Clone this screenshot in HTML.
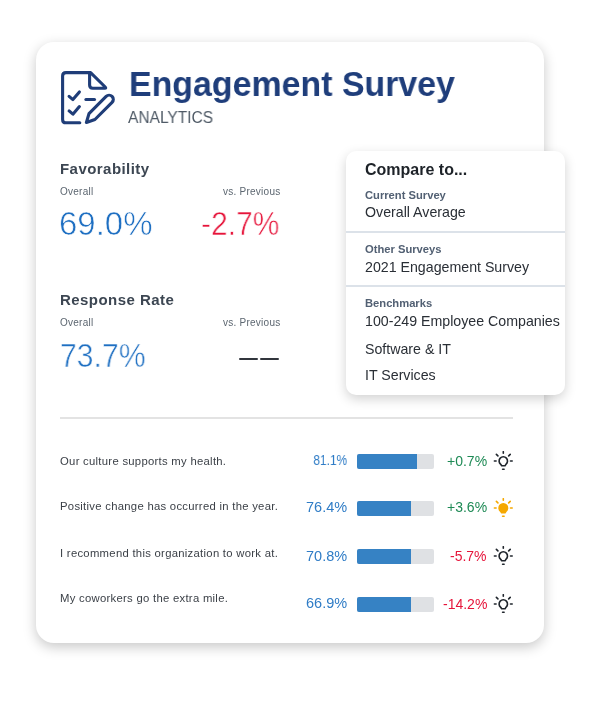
<!DOCTYPE html>
<html>
<head>
<meta charset="utf-8">
<style>
html,body{margin:0;padding:0;background:#fff;}
body{width:600px;height:720px;position:relative;overflow:hidden;font-family:"Liberation Sans",sans-serif;}
.a{position:absolute;white-space:nowrap;line-height:1;will-change:transform;}
.card{position:absolute;left:36px;top:42px;width:508px;height:601px;background:#fff;border-radius:18px;
  box-shadow:0 4px 13px rgba(0,0,0,0.22);}
.pop{position:absolute;left:346px;top:151px;width:219px;height:244px;background:#fff;border-radius:10px;
  box-shadow:0 4px 12px rgba(0,0,0,0.18);}
.title{font-weight:700;font-size:35.5px;color:#1f3e7b;transform:scaleX(0.955);transform-origin:0 0;}
.sub{font-size:16px;color:#4f5a66;transform:scaleX(0.97);transform-origin:0 0;}
.h2{font-weight:700;font-size:15px;letter-spacing:0.45px;color:#3c4652;}
.small{font-size:10px;letter-spacing:0.25px;color:#5c6670;}
.big{font-size:33px;color:#1e6fc2;-webkit-text-stroke:0.6px #fff;}
.red{color:#e6143a;}
.ptitle{font-weight:700;font-size:16px;color:#1d2228;}
.plabel{font-weight:700;font-size:11.2px;color:#526073;}
.pitem{font-size:14.2px;color:#2a2f36;}
.sep{position:absolute;left:0;width:219px;height:2px;background:#dce2e9;}
.row{font-size:11.3px;letter-spacing:0.28px;color:#3a3f46;}
.pct{font-size:14.5px;color:#2f7cc6;}
.bar{position:absolute;left:357px;width:77px;height:15.5px;background:#dfe1e4;border-radius:2px;overflow:hidden;}
.bar i{position:absolute;left:0;top:0;bottom:0;background:#3682c4;}
.chg{font-size:14px;}
.green{color:#1e8a55;}
.bulb{position:absolute;width:20px;height:20px;}
</style>
</head>
<body>
<div class="card"></div>

<!-- icon -->
<svg class="a" style="left:55px;top:65px" width="65" height="65" viewBox="55 65 65 65" fill="none" stroke="#1f3d78" stroke-width="3.1" stroke-linecap="round" stroke-linejoin="round">
  <path d="M79.8 122.8 L66 122.8 Q62.6 122.8 62.6 119.4 L62.6 76 Q62.6 72.6 66 72.6 L89.6 72.6"/>
  <path d="M89.6 72.6 L89.6 85 Q89.6 88.2 92.8 88.2 L104.8 88.2 Q106.4 88.2 105.2 87 L90.6 72.6 Z"/>
  <path d="M69.1 96.3 L72.9 99.6 L79.4 91.9"/>
  <path d="M69.1 110.9 L72.9 114.2 L79.4 106.6"/>
  <path d="M85.9 99.5 L94.5 99.5"/>
  <path d="M88.99 113.57 L106.13 96.43 A4.2 4.2 0 0 1 112.07 102.37 L94.93 119.51 L86.4 122.5 Z"/>
</svg>

<div class="a title" id="t1" style="left:129px;top:67px">Engagement Survey</div>
<div class="a sub" id="t2" style="left:128px;top:110px">ANALYTICS</div>

<div class="a h2" id="fav" style="left:60px;top:160.5px">Favorability</div>
<div class="a small" style="left:60px;top:187px">Overall</div>
<div class="a small" style="left:223px;top:187px">vs. Previous</div>
<div class="a big" style="left:59px;top:207px">69.0%</div>
<div class="a big red" style="left:201px;top:207px;transform:scaleX(0.91);transform-origin:0 0">-2.7%</div>

<div class="a h2" style="left:60px;top:292px">Response Rate</div>
<div class="a small" style="left:60px;top:318px">Overall</div>
<div class="a small" style="left:223px;top:318px">vs. Previous</div>
<div class="a big" style="left:59.5px;top:339px;transform:scaleX(0.915);transform-origin:0 0">73.7%</div>
<div class="a" style="left:239px;top:357.9px;width:19px;height:1.7px;background:#31353c;border-radius:1px"></div>
<div class="a" style="left:260px;top:357.9px;width:19px;height:1.7px;background:#31353c;border-radius:1px"></div>

<div class="a" style="left:60px;top:417.2px;width:453px;height:1.5px;background:#e3e3e3"></div>

<!-- rows -->
<div class="a row" style="left:60px;top:456px">Our culture supports my health.</div>
<div class="a row" style="left:60px;top:501px">Positive change has occurred in the year.</div>
<div class="a row" style="left:60px;top:547.5px">I recommend this organization to work at.</div>
<div class="a row" style="left:60px;top:593px">My coworkers go the extra mile.</div>

<div class="a pct" style="right:253px;top:453px;transform:scaleX(0.82);transform-origin:100% 0">81.1%</div>
<div class="a pct" style="right:253px;top:500px">76.4%</div>
<div class="a pct" style="right:253px;top:549px">70.8%</div>
<div class="a pct" style="right:253px;top:596px">66.9%</div>

<div class="bar" style="top:453.5px"><i style="width:60px"></i></div>
<div class="bar" style="top:500.5px"><i style="width:54px"></i></div>
<div class="bar" style="top:548.5px"><i style="width:54px"></i></div>
<div class="bar" style="top:596.5px"><i style="width:54px"></i></div>

<div class="a chg green" style="right:113px;top:454px">+0.7%</div>
<div class="a chg green" style="right:113px;top:500px">+3.6%</div>
<div class="a chg red" style="right:113px;top:549px">-5.7%</div>
<div class="a chg red" style="right:113px;top:597px">-14.2%</div>

<svg class="bulb" style="left:493px;top:451.1px" viewBox="-0.3 0 20 20" fill="none" stroke="#1f252c" stroke-width="1.6" stroke-linecap="round" stroke-linejoin="round">
  <path d="M10 0.7V2.3M3.1 3.4L4.6 4.9M16.9 3.4L15.4 4.9M1.1 10H2.8M17.2 10H18.9M9.3 18.2H10.8"/>
  <path d="M8.4 14.8L7.4 13.3A4.2 4.2 0 1 1 12.6 13.3L11.7 14.8Z"/>
</svg>
<svg class="bulb" style="left:493px;top:498.3px" viewBox="-0.3 0 20 20" fill="none" stroke="#f5a800" stroke-width="1.6" stroke-linecap="round" stroke-linejoin="round">
  <path d="M10 0.7V2.3M3.1 3.4L4.6 4.9M16.9 3.4L15.4 4.9M1.1 10H2.8M17.2 10H18.9M9.3 18.2H10.8"/>
  <path d="M8.4 14.8L7.4 13.3A4.2 4.2 0 1 1 12.6 13.3L11.7 14.8Z" fill="#f5a800"/>
</svg>
<svg class="bulb" style="left:493px;top:546.3px" viewBox="-0.3 0 20 20" fill="none" stroke="#1f252c" stroke-width="1.6" stroke-linecap="round" stroke-linejoin="round">
  <path d="M10 0.7V2.3M3.1 3.4L4.6 4.9M16.9 3.4L15.4 4.9M1.1 10H2.8M17.2 10H18.9M9.3 18.2H10.8"/>
  <path d="M8.4 14.8L7.4 13.3A4.2 4.2 0 1 1 12.6 13.3L11.7 14.8Z"/>
</svg>
<svg class="bulb" style="left:493px;top:594.2px" viewBox="-0.3 0 20 20" fill="none" stroke="#1f252c" stroke-width="1.6" stroke-linecap="round" stroke-linejoin="round">
  <path d="M10 0.7V2.3M3.1 3.4L4.6 4.9M16.9 3.4L15.4 4.9M1.1 10H2.8M17.2 10H18.9M9.3 18.2H10.8"/>
  <path d="M8.4 14.8L7.4 13.3A4.2 4.2 0 1 1 12.6 13.3L11.7 14.8Z"/>
</svg>

<!-- popup -->
<div class="pop">
  <div class="a ptitle" style="left:19px;top:11px">Compare to...</div>
  <div class="a plabel" style="left:19px;top:39px">Current Survey</div>
  <div class="a pitem" style="left:19px;top:54px">Overall Average</div>
  <div class="sep" style="top:80px"></div>
  <div class="a plabel" style="left:19px;top:93px">Other Surveys</div>
  <div class="a pitem" style="left:19px;top:109px">2021 Engagement Survey</div>
  <div class="sep" style="top:134px"></div>
  <div class="a plabel" style="left:19px;top:147px">Benchmarks</div>
  <div class="a pitem" style="left:19px;top:163px">100-249 Employee Companies</div>
  <div class="a pitem" style="left:19px;top:191px">Software &amp; IT</div>
  <div class="a pitem" style="left:19px;top:217px">IT Services</div>
</div>
</body>
</html>
